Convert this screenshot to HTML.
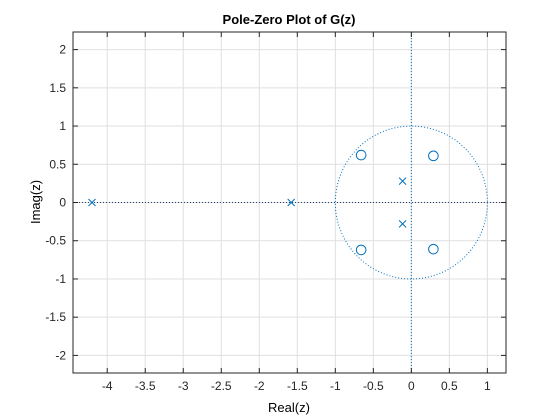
<!DOCTYPE html>
<html><head><meta charset="utf-8"><style>
body{margin:0;background:#fff;}
svg{display:block;font-family:"Liberation Sans",Arial,sans-serif;}
</style></head><body>
<svg id="chart" width="560" height="420">
<rect width="560" height="420" fill="#fff"/>
<g id="grid"></g><g id="marks"></g><g id="axes"></g>
<text x="289" y="24" text-anchor="middle" font-size="13" font-weight="bold">Pole-Zero Plot of G(z)</text>
<text x="289" y="412" text-anchor="middle" font-size="13">Real(z)</text>
<text transform="translate(40,202) rotate(-90)" text-anchor="middle" font-size="13">Imag(z)</text>
</svg>
<script>
const xTicks=[-4,-3.5,-3,-2.5,-2,-1.5,-1,-0.5,0,0.5,1];
const yTicks=[-2,-1.5,-1,-0.5,0,0.5,1,1.5,2];
const poleRe=[-4.2,-1.58,-0.115,-0.115];
const poleIm=[0,0,0.28,-0.28];
const zeroRe=[-0.66,-0.66,0.29,0.29];
const zeroIm=[0.62,-0.62,0.61,-0.61];
const X0=73,X1=506,Y0=32,Y1=373;
const xmin=-4.45,xmax=1.245,ymin=-2.23,ymax=2.23;
const sx=v=>X0+(v-xmin)/(xmax-xmin)*(X1-X0);
const sy=v=>Y1-(v-ymin)/(ymax-ymin)*(Y1-Y0);
const NS="http://www.w3.org/2000/svg";
function mk(p,t,a){const e=document.createElementNS(NS,t);for(const k in a)e.setAttribute(k,a[k]);p.appendChild(e);return e;}
const grid=document.getElementById('grid'),marks=document.getElementById('marks'),axes=document.getElementById('axes');
xTicks.forEach(t=>{const x=sx(t);
 const g=mk(grid,'line',{x1:x,x2:x,y1:Y0,y2:Y1,stroke:'#dfdfdf','stroke-width':1});
 
 
 mk(axes,'line',{x1:x,x2:x,y1:Y1,y2:Y1-5,stroke:'#262626'});
 mk(axes,'line',{x1:x,x2:x,y1:Y0,y2:Y0+5,stroke:'#262626'});
 const l=mk(axes,'text',{x:x,y:Y1+17,'text-anchor':'middle','font-size':12,fill:'#262626'});l.textContent=String(t);
 
 
});
yTicks.forEach(t=>{const y=sy(t);
 const g=mk(grid,'line',{x1:X0,x2:X1,y1:y,y2:y,stroke:'#dfdfdf','stroke-width':1});
 
 
 mk(axes,'line',{x1:X0,x2:X0+5,y1:y,y2:y,stroke:'#262626'});
 mk(axes,'line',{x1:X1,x2:X1-5,y1:y,y2:y,stroke:'#262626'});
 const l=mk(axes,'text',{x:X0-7,y:y+4,'text-anchor':'end','font-size':12,fill:'#262626'});l.textContent=String(t);
 
 
});
const c='#0072BD';
mk(marks,'line',{x1:X0,x2:X1,y1:sy(0),y2:sy(0),stroke:'#1f3f6f','stroke-dasharray':'1 2'});
mk(marks,'line',{x1:sx(0),x2:sx(0),y1:Y0,y2:Y1,stroke:c,'stroke-dasharray':'1 2'});
const uc=mk(marks,'ellipse',{cx:sx(0),cy:sy(0),rx:sx(1)-sx(0),ry:sy(0)-sy(1),fill:'none',stroke:c,'stroke-dasharray':'1 2'});


poleRe.forEach((r,i)=>{const x=sx(r),y=sy(poleIm[i]),d=3.5;
 const g=mk(marks,'path',{d:`M${x-d},${y-d}L${x+d},${y+d}M${x-d},${y+d}L${x+d},${y-d}`,stroke:c,fill:'none','stroke-width':1});
 
 
});
zeroRe.forEach((r,i)=>{
 const g=mk(marks,'circle',{cx:sx(r),cy:sy(zeroIm[i]),r:4.8,fill:'none',stroke:c,'stroke-width':1});
 
 
});
const box=mk(axes,'rect',{x:X0,y:Y0,width:X1-X0,height:Y1-Y0,fill:'none',stroke:'#262626','stroke-width':1});


</script>
</body></html>
